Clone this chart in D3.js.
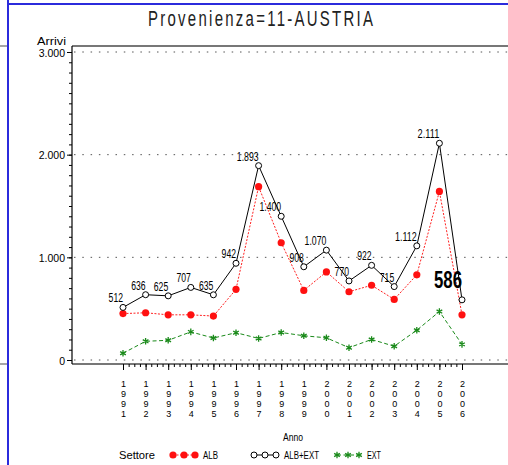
<!DOCTYPE html>
<html lang="it">
<head>
<meta charset="utf-8">
<title>Provenienza=11-AUSTRIA</title>
<script src="https://d3js.org/d3.v7.min.js"></script>
<style>
  body { margin: 0; background: #fff; }
  svg { display: block; }
  .lab { font-family: "Liberation Sans", Arial, sans-serif; fill: #000; }
  .tick text { font-family: "Liberation Sans", Arial, sans-serif; font-size: 10.5px; }
</style>
</head>
<body>
<div id="chart"></div>
<script>
// data
const years = [1991, 1992, 1993, 1994, 1995, 1996, 1997, 1998, 1999, 2000, 2001, 2002, 2003, 2004, 2005, 2006];
const albExt = [512, 636, 625, 707, 635, 942, 1893, 1400, 908, 1070, 770, 922, 715, 1112, 2111, 586];
const alb = [452, 460, 440, 440, 428, 688, 1688, 1142, 678, 858, 665, 728, 590, 830, 1642, 440];
const ext = [66, 182, 192, 274, 214, 266, 210, 268, 236, 216, 120, 200, 134, 290, 472, 152];
const yTicks = [0, 1000, 2000, 3000];
const seriesNames = ["ALB", "ALB+EXT", "EXT"];

const W = 508, H = 465;
const svg = d3.select("#chart").append("svg").attr("width", W).attr("height", H);

const x = d3.scaleLinear().domain([1991, 2006]).range([123, 462]);
const y = d3.scaleLinear().domain([0, 3000]).range([360, 52]);
const it = d3.formatLocale({ decimal: ",", thousands: ".", grouping: [3], currency: ["", "€"] });
const fmt = it.format(",d");

// narrow width for a number string, like the SAS font
const numWidth = s => s.replace(/\./g, "").length * 4.8 + (s.match(/\./g) || []).length * 2.6;

// outer page lines
svg.append("line").attr("x1", 8).attr("x2", 8).attr("y1", 0).attr("y2", H)
  .attr("stroke", "#2b2bdc").attr("stroke-width", 2);
svg.append("line").attr("x1", 8).attr("x2", W).attr("y1", 4).attr("y2", 4)
  .attr("stroke", "#2b2bdc").attr("stroke-width", 2);
[46, 364].forEach(v => svg.append("line").attr("x1", 0).attr("x2", 7).attr("y1", v).attr("y2", v)
  .attr("stroke", "#888").attr("stroke-width", 1.5));

// title: narrow glyphs, wide spacing
const ts = 0.68;
svg.append("text").attr("class", "lab")
  .attr("transform", `translate(148,26) scale(${ts},1)`)
  .attr("textLength", 225 / ts).attr("lengthAdjust", "spacing")
  .style("font-size", "22px").style("fill", "#222")
  .text("Provenienza=11-AUSTRIA");

// grid
svg.append("g").selectAll("line").data(yTicks).join("line")
  .attr("x1", 74).attr("x2", W)
  .attr("y1", d => y(d)).attr("y2", d => y(d))
  .attr("stroke", "#555").attr("stroke-width", 1)
  .attr("stroke-dasharray", "1.5,6.8");

// frame
svg.append("line").attr("x1", 72).attr("x2", W).attr("y1", 46).attr("y2", 46)
  .attr("stroke", "#777").attr("stroke-width", 2);
svg.append("line").attr("x1", 72).attr("x2", W).attr("y1", 364).attr("y2", 364)
  .attr("stroke", "#777").attr("stroke-width", 2);
svg.append("line").attr("x1", 72).attr("x2", 72).attr("y1", 46).attr("y2", 364)
  .attr("stroke", "#000").attr("stroke-width", 1.2);

// y axis
const yMinor = svg.append("g").attr("transform", "translate(72,0)")
  .call(d3.axisLeft(y).tickValues(d3.range(0, 3001, 100)).tickSize(3).tickFormat(""));
yMinor.select(".domain").remove();
const yAxis = svg.append("g").attr("transform", "translate(72,0)")
  .call(d3.axisLeft(y).tickValues(yTicks).tickSize(5).tickPadding(2).tickFormat(fmt));
yAxis.select(".domain").remove();
yAxis.selectAll("text").attr("dy", "0.4em");

svg.append("text").attr("class", "lab")
  .attr("x", 66).attr("y", 45).attr("text-anchor", "end")
  .attr("textLength", 29).attr("lengthAdjust", "spacingAndGlyphs")
  .style("font-size", "10px").text("Arrivi");

// x axis
const xMinor = svg.append("g").attr("transform", "translate(0,364)")
  .call(d3.axisBottom(x).tickValues(d3.range(1991, 2006.01, 0.25)).tickSize(3).tickFormat(""));
xMinor.select(".domain").remove();
const xAxis = svg.append("g").attr("transform", "translate(0,364)")
  .call(d3.axisBottom(x).tickValues(years).tickSize(6).tickFormat(""));
xAxis.select(".domain").remove();
xAxis.selectAll(".tick").each(function (d) {
  const t = d3.select(this).append("text")
    .attr("fill", "#000").attr("text-anchor", "middle").attr("y", 23)
    .style("font-size", "9px");
  String(d).split("").forEach((c, i) => {
    t.append("tspan").attr("x", 0).attr("dy", i === 0 ? 0 : 10).text(c);
  });
});

svg.append("text").attr("class", "lab")
  .attr("x", 293).attr("y", 441).attr("text-anchor", "middle")
  .attr("textLength", 20).attr("lengthAdjust", "spacingAndGlyphs")
  .style("font-size", "11px").text("Anno");

// lines
const pts = arr => arr.map((v, i) => [years[i], v]);
const line = d3.line().x(d => x(d[0])).y(d => y(d[1]));

svg.append("path").datum(pts(ext)).attr("d", line)
  .attr("fill", "none").attr("stroke", "#1a8a1a").attr("stroke-width", 1).attr("stroke-dasharray", "4,2.5");
svg.append("path").datum(pts(alb)).attr("d", line)
  .attr("fill", "none").attr("stroke", "#ff2020").attr("stroke-width", 1).attr("stroke-dasharray", "2,1.5");
svg.append("path").datum(pts(albExt)).attr("d", line)
  .attr("fill", "none").attr("stroke", "#000").attr("stroke-width", 1);

const star = d3.symbol().type(d3.symbolAsterisk).size(30);
function starMark(sel) {
  sel.append("path").attr("d", star).attr("stroke", "#1a8a1a").attr("stroke-width", 1.3).attr("fill", "none");
}
function dotMark(sel) {
  sel.append("circle").attr("r", 3.6).attr("fill", "#ff1010");
}
function ringMark(sel) {
  sel.append("circle").attr("r", 3).attr("fill", "#fff").attr("stroke", "#000").attr("stroke-width", 1);
}

svg.append("g").selectAll("g").data(pts(ext)).join("g")
  .attr("transform", d => `translate(${x(d[0])},${y(d[1])})`).call(starMark);
svg.append("g").selectAll("g").data(pts(alb)).join("g")
  .attr("transform", d => `translate(${x(d[0])},${y(d[1])})`).call(dotMark);
svg.append("g").selectAll("g").data(pts(albExt)).join("g")
  .attr("transform", d => `translate(${x(d[0])},${y(d[1])})`).call(ringMark);

// value labels (the last one is drawn big and bold)
const last = albExt.length - 1;
svg.append("g").selectAll("text").data(pts(albExt)).join("text")
  .attr("class", "lab")
  .attr("x", d => x(d[0]))
  .attr("y", (d, i) => y(d[1]) - (i === last ? 12 : 5))
  .attr("text-anchor", "end")
  .attr("textLength", (d, i) => i === last ? 28 : numWidth(fmt(d[1])))
  .attr("lengthAdjust", "spacingAndGlyphs")
  .style("font-size", (d, i) => i === last ? "23px" : "12px")
  .style("font-weight", (d, i) => i === last ? "bold" : "normal")
  .text(d => fmt(d[1]));

// legend
const ly = 455;
svg.append("text").attr("class", "lab").attr("x", 119).attr("y", ly + 4)
  .attr("textLength", 36).attr("lengthAdjust", "spacingAndGlyphs")
  .style("font-size", "11px").text("Settore");
const legend = [
  { name: seriesNames[0], x0: 173, w: 15, color: "#ff2020", dash: "2,1.5", mark: dotMark },
  { name: seriesNames[1], x0: 254, w: 35, color: "#000", dash: null, mark: ringMark },
  { name: seriesNames[2], x0: 337, w: 14, color: "#1a8a1a", dash: "4,2.5", mark: starMark }
];
legend.forEach(l => {
  const g = svg.append("g");
  g.append("line").attr("x1", l.x0).attr("x2", l.x0 + 22).attr("y1", ly).attr("y2", ly)
    .attr("stroke", l.color).attr("stroke-dasharray", l.dash);
  [0, 11, 22].forEach(dx => g.append("g").attr("transform", `translate(${l.x0 + dx},${ly})`).call(l.mark));
  g.append("text").attr("class", "lab").attr("x", l.x0 + 30).attr("y", ly + 4)
    .attr("textLength", l.w).attr("lengthAdjust", "spacingAndGlyphs")
    .style("font-size", "11px").text(l.name);
});
</script>
</body>
</html>
